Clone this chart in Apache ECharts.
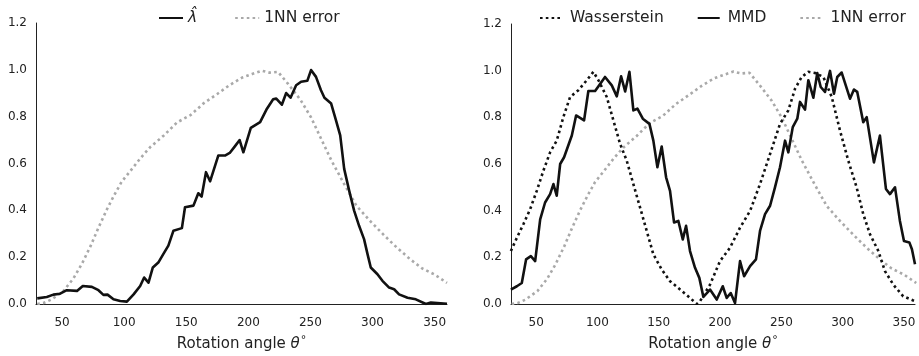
<!DOCTYPE html>
<html>
<head>
<meta charset="utf-8">
<script src="https://cdn.jsdelivr.net/npm/echarts@6/dist/echarts.min.js"></script>
<style>
html,body{margin:0;padding:0;background:#fff;}
#c{width:919px;height:356px;}
</style>
</head>
<body>
<div id="c"></div>
<script>
// ---- data ----
const xTicks = [50, 100, 150, 200, 250, 300, 350];
const yTicks = [0.0, 0.2, 0.4, 0.6, 0.8, 1.0, 1.2];

const lamX = [30, 37.7, 43, 48.4, 53.8, 62, 66.7, 74, 79.3, 83.3, 86.6, 91.4, 96.8, 102.2, 107.6, 112.9, 116.1, 119.6, 123.1, 127.5, 131.5, 135.6, 139.7, 146.5, 149, 155.8, 159.7, 162.4, 165.9, 169.2, 175.8, 181.2, 185, 189, 193, 196, 202, 209.5, 215, 220, 222.5, 227, 230.5, 234, 238.5, 242.5, 247.5, 250.5, 254.5, 258.5, 261.3, 266.7, 270.6, 274, 277.2, 281.2, 285.2, 289.2, 293.2, 296, 298.6, 304, 308, 313.4, 317.4, 321.4, 328.2, 334.9, 343, 347, 360];
const lamY = [0.024, 0.03, 0.04, 0.044, 0.059, 0.056, 0.077, 0.073, 0.059, 0.039, 0.04, 0.02, 0.013, 0.01, 0.041, 0.077, 0.113, 0.091, 0.156, 0.177, 0.213, 0.249, 0.313, 0.324, 0.413, 0.42, 0.473, 0.459, 0.563, 0.524, 0.634, 0.634, 0.645, 0.672, 0.70, 0.648, 0.752, 0.777, 0.834, 0.874, 0.877, 0.851, 0.901, 0.881, 0.934, 0.949, 0.953, 0.999, 0.97, 0.913, 0.881, 0.856, 0.784, 0.72, 0.577, 0.484, 0.399, 0.334, 0.277, 0.213, 0.156, 0.127, 0.099, 0.07, 0.063, 0.041, 0.027, 0.02, 0.0, 0.006, 0.001];

const nnX = [30, 35, 41, 51, 59, 66, 73, 79, 86, 92, 98, 105, 113, 121, 132, 142.5, 153.5, 164, 175, 185, 195, 203, 211, 217, 224, 232, 242, 250.5, 258.5, 266.8, 277, 287, 297.8, 310, 319.6, 330.4, 340, 350, 360];
const nnY = [0.0, 0.004, 0.018, 0.055, 0.108, 0.172, 0.248, 0.322, 0.403, 0.465, 0.522, 0.568, 0.622, 0.67, 0.72, 0.775, 0.807, 0.857, 0.897, 0.935, 0.967, 0.982, 0.996, 0.988, 0.991, 0.94, 0.872, 0.797, 0.707, 0.614, 0.514, 0.42, 0.356, 0.29, 0.241, 0.191, 0.152, 0.126, 0.09];

const mmdX = [29.4, 34.3, 38.3, 41.8, 45.7, 49.2, 53.3, 57.3, 61.4, 64.1, 66.8, 69.6, 72.8, 79.1, 82.6, 89.1, 92.6, 98.1, 106.2, 111.7, 115.8, 119.3, 122.6, 126.1, 129.3, 132.6, 137, 142.4, 145.6, 148.9, 152.4, 156, 159.2, 162.5, 166, 169.6, 172.3, 175.5, 179.6, 183.1, 186.4, 191.8, 197.3, 202.2, 205.4, 208.7, 212.2, 216.3, 219.6, 224.5, 229.3, 232.6, 236.7, 240.8, 244.8, 248.9, 253, 255.7, 259.3, 263, 265.2, 269.3, 272, 276.1, 279.3, 282.1, 285.6, 289.7, 292.9, 295.6, 299.2, 306, 309.2, 311.9, 316.8, 319.6, 325.5, 330.4, 335.3, 338.6, 342.7, 346.7, 350, 354.4, 356.5, 359];
const mmdY = [0.062, 0.076, 0.09, 0.191, 0.205, 0.184, 0.363, 0.435, 0.471, 0.514, 0.464, 0.6, 0.629, 0.722, 0.808, 0.787, 0.913, 0.913, 0.973, 0.937, 0.89, 0.976, 0.911, 0.995, 0.83, 0.837, 0.794, 0.772, 0.7, 0.586, 0.675, 0.543, 0.485, 0.349, 0.356, 0.277, 0.335, 0.227, 0.155, 0.112, 0.03, 0.062, 0.019, 0.076, 0.026, 0.047, 0.004, 0.184, 0.119, 0.162, 0.191, 0.313, 0.385, 0.421, 0.5, 0.586, 0.7, 0.65, 0.758, 0.794, 0.866, 0.833, 0.959, 0.884, 0.99, 0.93, 0.909, 0.999, 0.901, 0.973, 0.992, 0.88, 0.919, 0.909, 0.779, 0.801, 0.607, 0.722, 0.493, 0.471, 0.5, 0.356, 0.27, 0.264, 0.235, 0.17];

const wsX = [29.4, 34.3, 39.6, 45.1, 50.5, 55.9, 61.4, 66.8, 72.2, 77.7, 84.5, 91.3, 96.7, 100.8, 107.6, 113, 118.5, 123.9, 129.3, 134.8, 140.2, 145.6, 152.4, 159.2, 167.4, 175.5, 181, 183.7, 191.8, 200, 208.1, 216.3, 224.5, 232.6, 240.8, 248.9, 255.7, 261.2, 266.6, 272, 277.5, 284.3, 291.1, 297.8, 304.6, 311.4, 316.8, 322.3, 329.1, 334.5, 341.3, 349.4, 357.6, 359];
const wsY = [0.227, 0.284, 0.342, 0.406, 0.485, 0.571, 0.65, 0.7, 0.801, 0.887, 0.916, 0.959, 0.995, 0.959, 0.887, 0.787, 0.686, 0.614, 0.514, 0.413, 0.313, 0.213, 0.148, 0.098, 0.062, 0.026, 0.0, 0.012, 0.083, 0.184, 0.241, 0.327, 0.399, 0.514, 0.643, 0.772, 0.83, 0.923, 0.973, 0.995, 0.99, 0.973, 0.887, 0.744, 0.614, 0.5, 0.385, 0.299, 0.227, 0.141, 0.083, 0.033, 0.015, 0.012];

const zip = (xs, ys) => xs.map((x, i) => [x, ys[i]]);

// ---- chart ----
const FONT = 'DejaVu Sans';
const TXT = '#222';
const BLACK = '#111';
const GRAY = '#a9a9a9';

function xAxisCfg(gi, min, max) {
  return {
    type: 'value', gridIndex: gi, min: min, max: max,
    name: 'Rotation angle {t|θ}{d|°}',
    nameLocation: 'middle', nameGap: 31,
    nameTextStyle: {
      fontFamily: FONT, fontSize: 15, color: TXT,
      rich: {
        t: { fontFamily: FONT, fontStyle: 'italic', fontSize: 15, color: TXT },
        d: { fontFamily: FONT, fontSize: 11, color: TXT, verticalAlign: 'top', padding: [0, 0, 8, 1] }
      }
    },
    axisLine: { show: true, onZero: false, lineStyle: { color: '#222', width: 1 } },
    axisTick: { show: false },
    splitLine: { show: false },
    axisLabel: {
      customValues: xTicks, margin: 13,
      fontFamily: FONT, fontSize: 12, color: TXT
    }
  };
}
function yAxisCfg(gi) {
  return {
    type: 'value', gridIndex: gi, min: 0, max: 1.2, interval: 0.2,
    axisLine: { show: true, lineStyle: { color: '#222', width: 1 } },
    axisTick: { show: false },
    splitLine: { show: false },
    axisLabel: {
      customValues: yTicks, margin: 9,
      fontFamily: FONT, fontSize: 12, color: TXT,
      formatter: v => Number(v).toFixed(1)
    }
  };
}
const solid = c => ({ color: c, width: 2.6, cap: 'butt', join: 'round' });
const dotted = c => ({ color: c, width: 2.6, type: [2.6, 3.2], cap: 'butt' });

function line(name, gi, data, ls) {
  return {
    type: 'line', name: name, xAxisIndex: gi, yAxisIndex: gi,
    data: data, symbol: 'none', showSymbol: false, smooth: false,
    lineStyle: ls, itemStyle: { color: ls.color }, clip: true,
    emphasis: { disabled: true }
  };
}

const legendText = {
  fontFamily: FONT, fontSize: 15.5, color: TXT,
  rich: { m: { fontFamily: FONT, fontStyle: 'italic', fontSize: 15.5, color: TXT } }
};

const option = {
  animation: false,
  backgroundColor: '#fff',
  textStyle: { fontFamily: FONT },
  legend: [
    {
      left: 153, top: 5, itemWidth: 24, itemHeight: 14, itemGap: 37,
      data: ['λ̂', '1NN error'],
      itemStyle: { opacity: 0 },
      formatter: n => n === 'λ̂' ? '{m|λ̂}' : n,
      textStyle: legendText
    },
    {
      left: 534, top: 5, itemWidth: 22, itemHeight: 14, itemGap: 33,
      data: ['Wasserstein', 'MMD', '1NN error'],
      itemStyle: { opacity: 0 },
      textStyle: Object.assign({ padding: [0, 0, 0, 3] }, legendText)
    }
  ],
  grid: [
    { left: 36, right: 472, top: 23, bottom: 52, containLabel: false, outerBoundsMode: 'none' },
    { left: 511, right: 4, top: 24, bottom: 52, containLabel: false, outerBoundsMode: 'none' }
  ],
  xAxis: [xAxisCfg(0, 29, 360), xAxisCfg(1, 29.5, 359)],
  yAxis: [yAxisCfg(0), yAxisCfg(1)],
  series: [
    line('1NN error', 0, zip(nnX, nnY), dotted(GRAY)),
    line('λ̂', 0, zip(lamX, lamY), solid(BLACK)),
    line('1NN error', 1, zip(nnX, nnY), dotted(GRAY)),
    line('Wasserstein', 1, zip(wsX, wsY), dotted(BLACK)),
    line('MMD', 1, zip(mmdX, mmdY), solid(BLACK))
  ]
};

const chart = echarts.init(document.getElementById('c'), null, { renderer: 'canvas' });
chart.setOption(option);
</script>
</body>
</html>
